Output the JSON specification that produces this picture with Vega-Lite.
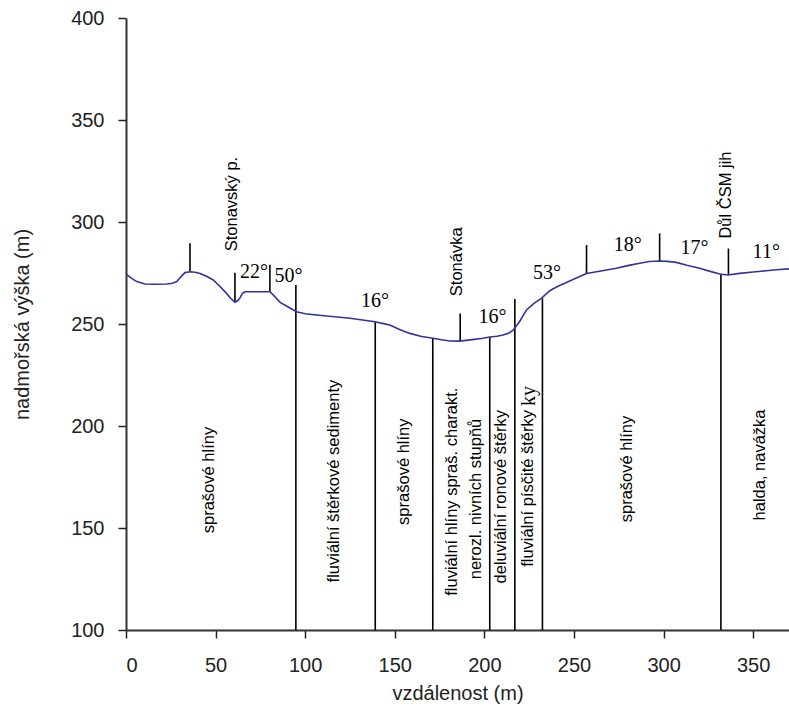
{
  "$schema": "https://vega.github.io/schema/vega-lite/v6.json",
  "width": 663,
  "height": 612,
  "autosize": {"type": "none"},
  "padding": {"left": 126, "top": 18, "right": 0, "bottom": 82},
  "background": "white",
  "config": {
    "view": {"stroke": null},
    "axis": {"grid": false, "labelFont": "Liberation Sans", "titleFont": "Liberation Sans", "labelFontSize": 20, "titleFontSize": 20, "titleFontWeight": "normal", "labelColor": "#222", "titleColor": "#222", "domainColor": "#333", "tickColor": "#222", "domainWidth": 2, "tickWidth": 1.5, "tickSize": 8}
  },
  "datasets": {
    "profile": [
      {"x": 0, "y": 274.5}, {"x": 3, "y": 272.5}, {"x": 6, "y": 270.8}, {"x": 10.6, "y": 269.6}, {"x": 16, "y": 269.5}, {"x": 22.7, "y": 269.6}, {"x": 26, "y": 270}, {"x": 28.3, "y": 270.8}, {"x": 30.5, "y": 273}, {"x": 32.9, "y": 275.2}, {"x": 35.7, "y": 275.6}, {"x": 38.5, "y": 275.4}, {"x": 41.3, "y": 274.8}, {"x": 45, "y": 273.4}, {"x": 48.7, "y": 271.6}, {"x": 52.5, "y": 268.4}, {"x": 56.1, "y": 265}, {"x": 58.5, "y": 262.5}, {"x": 60.8, "y": 260.7}, {"x": 62.5, "y": 261.5}, {"x": 63.6, "y": 262.8}, {"x": 65, "y": 265}, {"x": 66.4, "y": 265.8}, {"x": 73, "y": 265.8}, {"x": 80.3, "y": 265.8}, {"x": 82, "y": 264.4}, {"x": 83.9, "y": 262.6}, {"x": 86, "y": 260.6}, {"x": 88.6, "y": 259.3}, {"x": 92, "y": 257.6}, {"x": 95.2, "y": 256}, {"x": 100, "y": 255}, {"x": 106.4, "y": 254.4}, {"x": 115, "y": 253.7}, {"x": 125, "y": 252.8}, {"x": 132, "y": 252}, {"x": 138.9, "y": 251.1}, {"x": 143, "y": 250.3}, {"x": 147.2, "y": 249.5}, {"x": 153, "y": 247.2}, {"x": 158.4, "y": 245.4}, {"x": 165, "y": 243.9}, {"x": 171.4, "y": 243}, {"x": 176, "y": 242.3}, {"x": 180.7, "y": 241.7}, {"x": 186.3, "y": 241.6}, {"x": 192, "y": 242.2}, {"x": 199.3, "y": 243}, {"x": 203, "y": 243.6}, {"x": 207, "y": 244}, {"x": 210.4, "y": 244.6}, {"x": 213.5, "y": 245.5}, {"x": 216, "y": 247}, {"x": 219.5, "y": 251}, {"x": 223.5, "y": 256.9}, {"x": 227.5, "y": 260}, {"x": 231.8, "y": 262.6}, {"x": 236.5, "y": 266.3}, {"x": 241, "y": 268.5}, {"x": 245.8, "y": 270.3}, {"x": 251, "y": 272.4}, {"x": 257, "y": 274.8}, {"x": 265, "y": 276}, {"x": 273.7, "y": 277.3}, {"x": 280, "y": 278.6}, {"x": 286.7, "y": 279.8}, {"x": 292, "y": 280.6}, {"x": 297.8, "y": 280.9}, {"x": 302, "y": 280.7}, {"x": 307.1, "y": 280.2}, {"x": 313, "y": 278.8}, {"x": 320.1, "y": 277.3}, {"x": 326, "y": 275.8}, {"x": 331.3, "y": 274.5}, {"x": 335.9, "y": 274}, {"x": 342.4, "y": 274.8}, {"x": 350, "y": 275.5}, {"x": 357.3, "y": 276.1}, {"x": 363, "y": 276.6}, {"x": 370, "y": 277}
    ],
    "segments": [
      {"x": 35.7, "y1": 275.6, "y2": 289.6},
      {"x": 60.8, "y1": 260.9, "y2": 275.1},
      {"x": 80.3, "y1": 265.8, "y2": 279},
      {"x": 186.5, "y1": 241.7, "y2": 255.2},
      {"x": 257, "y1": 274.8, "y2": 288.7},
      {"x": 297.8, "y1": 280.9, "y2": 294.4},
      {"x": 336.2, "y1": 274, "y2": 287},
      {"x": 94.8, "y1": 100, "y2": 269.1},
      {"x": 139.1, "y1": 100, "y2": 251.1},
      {"x": 171.2, "y1": 100, "y2": 243},
      {"x": 203, "y1": 100, "y2": 243.5},
      {"x": 217, "y1": 100, "y2": 262.3},
      {"x": 232.4, "y1": 100, "y2": 262.6},
      {"x": 332, "y1": 100, "y2": 274.5}
    ],
    "labels": [
      {"x": 59.4, "y": 308.8, "text": "Stonavský p."},
      {"x": 184.9, "y": 280.5, "text": "Stonávka"},
      {"x": 334.9, "y": 313.2, "text": "Důl ČSM jih"},
      {"x": 46.3, "y": 173.5, "text": "sprašové hlíny"},
      {"x": 116, "y": 173, "text": "fluviální štěrkové sedimenty"},
      {"x": 155, "y": 177.6, "text": "sprašové hlíny"},
      {"x": 182.1, "y": 167.8, "text": "fluviální hlíny spraš. charakt."},
      {"x": 195.6, "y": 164.2, "text": "nerozl. nivních stupňů"},
      {"x": 209.5, "y": 165.3, "text": "deluviální ronové štěrky"},
      {"x": 224.6, "y": 169.4, "text": "fluviální písčité štěrky"},
      {"x": 279.7, "y": 178.9, "text": "sprašové hlíny"},
      {"x": 353.6, "y": 180.9, "text": "halda, navážka"}
    ],
    "angles": [
      {"x": 71.4, "y": 275.3, "text": "22°"},
      {"x": 90.7, "y": 273.3, "text": "50°"},
      {"x": 138.9, "y": 261.4, "text": "16°"},
      {"x": 204.6, "y": 253.6, "text": "16°"},
      {"x": 234.9, "y": 274.9, "text": "53°"},
      {"x": 280, "y": 288.7, "text": "18°"},
      {"x": 317.2, "y": 287.5, "text": "17°"},
      {"x": 357.3, "y": 285.5, "text": "11°"}
    ],
    "extra": [
      {"x": 224.8, "y": 214.7, "text": "ky"}
    ]
  },
  "layer": [
    {
      "mark": {"type": "rule", "color": "black", "strokeWidth": 2},
      "encoding": {"y": {"datum": 400, "type": "quantitative", "scale": {"domain": [100, 400], "nice": false}}}
    },
    {
      "data": {"name": "segments"},
      "mark": {"type": "rule", "color": "black", "strokeWidth": 1.6},
      "encoding": {
        "x": {"field": "x", "type": "quantitative", "scale": {"domain": [0, 370], "nice": false, "zero": false},
              "axis": {"values": [0, 50, 100, 150, 200, 250, 300, 350], "title": "vzdálenost (m)", "labelPadding": 17, "titlePadding": 8}},
        "y": {"field": "y1", "type": "quantitative", "scale": {"domain": [100, 400], "nice": false, "zero": false},
              "axis": {"values": [100, 150, 200, 250, 300, 350, 400], "title": "nadmořská výška (m)", "labelPadding": 14, "titlePadding": 38}},
        "y2": {"field": "y2"}
      }
    },
    {
      "data": {"name": "profile"},
      "mark": {"type": "line", "color": "#33339c", "strokeWidth": 1.6},
      "encoding": {
        "x": {"field": "x", "type": "quantitative"},
        "y": {"field": "y", "type": "quantitative"}
      }
    },
    {
      "data": {"name": "labels"},
      "mark": {"type": "text", "angle": 270, "font": "Liberation Sans", "fontSize": 16.5, "color": "black", "align": "center", "baseline": "middle"},
      "encoding": {
        "x": {"field": "x", "type": "quantitative"},
        "y": {"field": "y", "type": "quantitative"},
        "text": {"field": "text"}
      }
    },
    {
      "data": {"name": "angles"},
      "mark": {"type": "text", "font": "Liberation Serif", "fontSize": 20, "color": "black", "align": "center", "baseline": "middle"},
      "encoding": {
        "x": {"field": "x", "type": "quantitative"},
        "y": {"field": "y", "type": "quantitative"},
        "text": {"field": "text"}
      }
    },
    {
      "data": {"name": "extra"},
      "mark": {"type": "text", "angle": 270, "font": "Liberation Serif", "fontSize": 20, "color": "black", "align": "center", "baseline": "middle"},
      "encoding": {
        "x": {"field": "x", "type": "quantitative"},
        "y": {"field": "y", "type": "quantitative"},
        "text": {"field": "text"}
      }
    }
  ]
}
